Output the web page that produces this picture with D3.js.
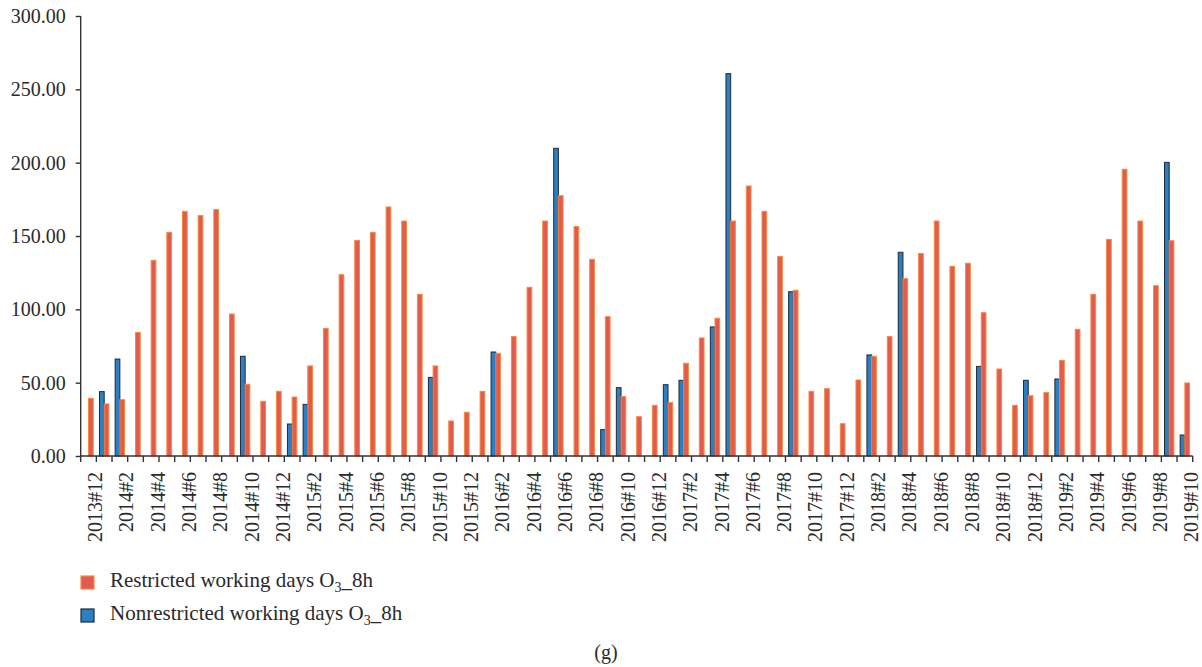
<!DOCTYPE html>
<html>
<head>
<meta charset="utf-8">
<script src="https://cdn.jsdelivr.net/npm/d3@7"></script>
<style>
  body { margin: 0; background: #fff; }
  svg { display: block; font-family: "Liberation Serif", "DejaVu Serif", serif; }
</style>
</head>
<body>
<svg></svg>
<script>
var w = 1202, h = 667;

// month labels, 2013#12 .. 2019#10
var months = ["2013#12"];
[2014, 2015, 2016, 2017, 2018, 2019].forEach(function (y) {
    var last = y == 2019 ? 10 : 12;
    for (var m = 1; m <= last; m++) months.push(y + "#" + m);
});

// Restricted working days O3_8h
var restricted = [39.3, 35.5, 38.4, 84.3, 133.4, 152.5, 166.8, 163.9, 168.0, 96.8, 48.9, 37.3, 44.1,
    40.2, 61.4, 87.0, 123.6, 147.0, 152.5, 169.8, 160.2, 110.2, 61.4, 23.9, 29.8,
    44.1, 70.0, 81.4, 115.0, 160.2, 177.5, 156.4, 134.1, 95.0, 40.5, 26.8, 34.5,
    36.4, 63.2, 80.5, 93.9, 160.2, 184.1, 166.8, 136.1, 113.0, 44.1, 45.9, 22.0,
    51.8, 68.0, 81.4, 120.9, 138.0, 160.2, 129.3, 131.4, 97.7, 59.3, 34.5, 41.1,
    43.2, 65.2, 86.4, 110.2, 147.7, 195.5, 160.2, 116.1, 146.8, 49.8];

// Nonrestricted working days O3_8h (null = no value)
var nonrestricted = [null, 43.9, 66.1, null, null, null, null, null, null, null, 68.0, null, null,
    21.8, 35.2, null, null, null, null, null, null, null, 53.6, null, null,
    null, 70.9, null, null, null, 209.8, null, null, 18.0, 46.6, null, null,
    48.6, 51.6, null, 88.0, 260.7, null, null, null, 112.0, null, null, null,
    null, 68.9, null, 138.9, null, null, null, null, 61.1, null, null, 51.6,
    null, 52.5, null, null, null, null, null, null, 200.2, 14.3];

var yTicks = [0, 50, 100, 150, 200, 250, 300];

var svg = d3.select("svg").attr("width", w).attr("height", h);

var plotLeft = 80.7, plotRight = 1192.7, plotTop = 16, plotBottom = 456;

var x = d3.scaleBand().domain(months).range([plotLeft, plotRight]).padding(0);
var y = d3.scaleLinear().domain([0, 300]).range([plotBottom, plotTop]);
var bw = x.bandwidth() * 0.3;

var rows = months.map(function (m, i) {
    return { month: m, i: i, r: restricted[i], n: nonrestricted[i] };
});

// bars
svg.append("g").selectAll("rect")
    .data(rows.filter(d => d.n != null))
    .enter().append("rect")
    .attr("x", d => x(d.month) + x.bandwidth() / 2 - bw)
    .attr("y", d => y(d.n))
    .attr("width", bw)
    .attr("height", d => plotBottom - y(d.n))
    .attr("fill", "#2b7fc2")
    .attr("stroke", "#1f2b36")
    .attr("stroke-width", 1);

svg.append("g").selectAll("rect")
    .data(rows)
    .enter().append("rect")
    .attr("x", d => x(d.month) + x.bandwidth() / 2)
    .attr("y", d => y(d.r))
    .attr("width", bw)
    .attr("height", d => plotBottom - y(d.r))
    .attr("fill", "#e25b4e")
    .attr("stroke", "#f5893f")
    .attr("stroke-width", 1);

// y axis
var yAxis = svg.append("g")
    .attr("transform", "translate(" + plotLeft + ",0)")
    .call(d3.axisLeft(y).tickValues(yTicks).tickFormat(d3.format(".2f")).tickSize(5).tickPadding(10));
yAxis.select(".domain").attr("stroke", "#333").attr("stroke-width", 1.4).attr("d", "M0," + plotTop + "V" + plotBottom);
yAxis.selectAll(".tick line").attr("stroke", "#333").attr("stroke-width", 1.4);
yAxis.selectAll("text")
    .attr("fill", "#2a2a2a")
    .style("font-size", "20px")
    .style("font-family", "Liberation Serif");

// x axis line and boundary ticks
var xg = svg.append("g");
xg.append("line")
    .attr("x1", plotLeft).attr("x2", plotRight)
    .attr("y1", plotBottom).attr("y2", plotBottom)
    .attr("stroke", "#333").attr("stroke-width", 1.4);
xg.selectAll(".bt")
    .data(months.concat(["end"]))
    .enter().append("line")
    .attr("class", "bt")
    .attr("x1", d => d == "end" ? plotRight : x(d))
    .attr("x2", d => d == "end" ? plotRight : x(d))
    .attr("y1", plotBottom).attr("y2", plotBottom + 6)
    .attr("stroke", "#333").attr("stroke-width", 1.4);

// x labels, every other month
xg.selectAll(".xl")
    .data(rows.filter(d => d.i % 2 == 0))
    .enter().append("text")
    .attr("class", "xl")
    .attr("transform", d => "translate(" + (x(d.month) + x.bandwidth() / 2 + 13.5) + "," + 472 + ") rotate(-90)")
    .attr("text-anchor", "end")
    .attr("fill", "#2a2a2a")
    .style("font-size", "20px")
    .text(d => d.month);

// legend
var legend = [
    { label: "Restricted working days O", fill: "#e25b4e", stroke: "#f5893f" },
    { label: "Nonrestricted working days O", fill: "#2b7fc2", stroke: "#1f2b36" }
];
var lg = svg.append("g").selectAll("g")
    .data(legend)
    .enter().append("g")
    .attr("transform", (d, i) => "translate(81," + (576 + i * 33) + ")");
lg.append("rect")
    .attr("width", 13).attr("height", 13)
    .attr("fill", d => d.fill)
    .attr("stroke", d => d.stroke)
    .attr("stroke-width", 1.2);
var lt = lg.append("text")
    .attr("x", 29).attr("y", 11)
    .attr("fill", "#2a2a2a")
    .style("font-size", "21px");
lt.append("tspan").text(d => d.label);
lt.append("tspan").attr("dy", 5).style("font-size", "14px").text("3");
lt.append("tspan").attr("dy", -5).text("_8h");

svg.append("text")
    .attr("x", 606).attr("y", 659)
    .attr("text-anchor", "middle")
    .attr("fill", "#2a2a2a")
    .style("font-size", "20px")
    .text("(g)");
</script>
</body>
</html>
